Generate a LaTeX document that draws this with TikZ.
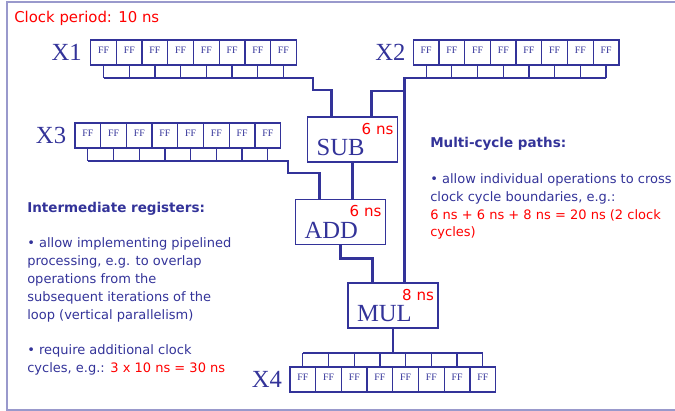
\documentclass[tikz,border=0pt]{standalone}
\usepackage{fontspec}
\setmainfont{Liberation Serif}
\newfontfamily\verd{DejaVu Sans}
\usepackage{tikz}
\usetikzlibrary{positioning}
\usepackage{xcolor}
\definecolor{navy}{HTML}{333399}
\definecolor{framecol}{HTML}{9999CC}

\begin{document}
\begin{tikzpicture}[x=0.025cm,y=-0.025cm,
  ff/.style={draw=navy,line width=0.9pt,minimum width=18.28pt,minimum height=17.78pt,inner sep=0pt,text depth=3pt,text=navy,font=\fontsize{7}{7}\selectfont},
  stub/.style={navy,line width=0.8pt},
  bus/.style={navy,line width=2.1pt},
  opbox/.style={draw=navy,line width=1pt,minimum width=64pt,minimum height=32pt,inner sep=0pt},
  opname/.style={anchor=base west,inner sep=0pt,text=navy,font=\fontsize{17.5}{17.5}\selectfont},
  delay/.style={anchor=base east,inner sep=0pt,text=red,font=\verd\fontsize{10.7}{10.7}\selectfont},
  reglbl/.style={anchor=east,inner sep=0pt,text=navy,font=\fontsize{17.5}{17.5}\selectfont},
  note/.style={anchor=base west,align=left,inner sep=0pt,text=navy,font=\verd\fontsize{9.25}{12.66}\selectfont}]
\useasboundingbox (0,0) rectangle (675,411);
\draw[framecol,line width=0.8pt] (675,2) -- (7,2) -- (7,410) -- (675,410);

\node[anchor=base west,inner sep=0pt,text=red,font=\verd\fontsize{10.6}{10.6}\selectfont] (title) at (14,22.7) {Clock period: 10 ns};

% the four 8-bit registers
\foreach \r/\px/\py in {x1/90.7/40,x2/413.3/40,x3/75/123,x4/290/367}
  \foreach \i in {1,...,8}
    \node[ff] (\r-\i) at ({\px+12.85+25.7*(\i-1)},{\py+12.5}) {FF};
\node[reglbl] (x1lbl) at ([xshift=-5.7pt]x1-1.west) {X1};
\node[reglbl] (x2lbl) at ([xshift=-5pt]x2-1.west) {X2};
\node[reglbl] (x3lbl) at ([xshift=-5.7pt]x3-1.west) {X3};
\node[reglbl] (x4lbl) at ([xshift=-5pt]x4-1.west) {X4};

% operators
\node[opbox] (sub) at (352.5,139.5) {};
\node[opbox] (add) at (340.5,222) {};
\node[opbox] (mul) at (393,305.5) {};
\foreach \op/\txt/\t in {sub/SUB/6,add/ADD/6,mul/MUL/8} {
  \node[opname] (\op-name) at ([shift={(9.5,-7)}]\op.south west) {\txt};
  \node[delay] (\op-time) at ([shift={(-4.5,18)}]\op.north east) {\t\ ns};
}
\coordinate (sub-a) at ([shift={(25,0)}]sub.north west);
\coordinate (sub-b) at ([shift={(65,0)}]sub.north west);
\coordinate (add-a) at ([shift={(24.5,0)}]add.north west);
\coordinate (mul-a) at ([shift={(25,0)}]mul.north west);
\coordinate (mul-b) at ([shift={(57,0)}]mul.north west);

% buses
\coordinate (bus1) at (0,78);
\coordinate (bus3) at (0,161);
\coordinate (bus4) at (0,353);
\foreach \i in {1,...,8} {
  \draw[stub] (x1-\i.south) -- (x1-\i.south |- bus1);
  \draw[stub] (x2-\i.south) -- (x2-\i.south |- bus1);
  \draw[stub] (x3-\i.south) -- (x3-\i.south |- bus3);
  \draw[stub] (x4-\i.north) -- (x4-\i.north |- bus4);
}
\draw[bus] (x1-1.south |- bus1) -| (313,90) -| (sub-a);
\draw[bus] (x2-8.south |- bus1) -| (mul-b);
\draw[bus] (sub-b) |- (405,91);
\draw[bus] (x3-1.south |- bus3) -| (288,173) -| (add-a);
\draw[bus] (sub.south) -- (sub.south |- add.north);
\draw[bus] (add.south) -- ++(0,13) -| (mul-a);
\draw[bus] (mul.south) -- (mul.south |- bus4);
\draw[bus] (x4-1.north |- bus4) -- (x4-8.north |- bus4);

% side notes (base is the last line)
\node[note] (interm) at (27,372.5) {{\fontsize{9.6}{12.66}\selectfont\bfseries Intermediate registers:}\\[12.66pt]%
• allow implementing pipelined\\processing, e.g. to overlap\\operations from the\\subsequent iterations of the\\loop (vertical parallelism)\\[12.66pt]%
• require additional clock\\cycles, e.g.: \textcolor{red}{3 x 10 ns = 30 ns}};
\node[note] (multi) at (430,237) {{\fontsize{9.6}{12.66}\selectfont\bfseries Multi-cycle paths:}\\[12.66pt]%
• allow individual operations to cross\\clock cycle boundaries, e.g.:\\\textcolor{red}{6 ns + 6 ns + 8 ns = 20 ns (2 clock}\\\textcolor{red}{cycles)}};
\end{tikzpicture}
\end{document}
